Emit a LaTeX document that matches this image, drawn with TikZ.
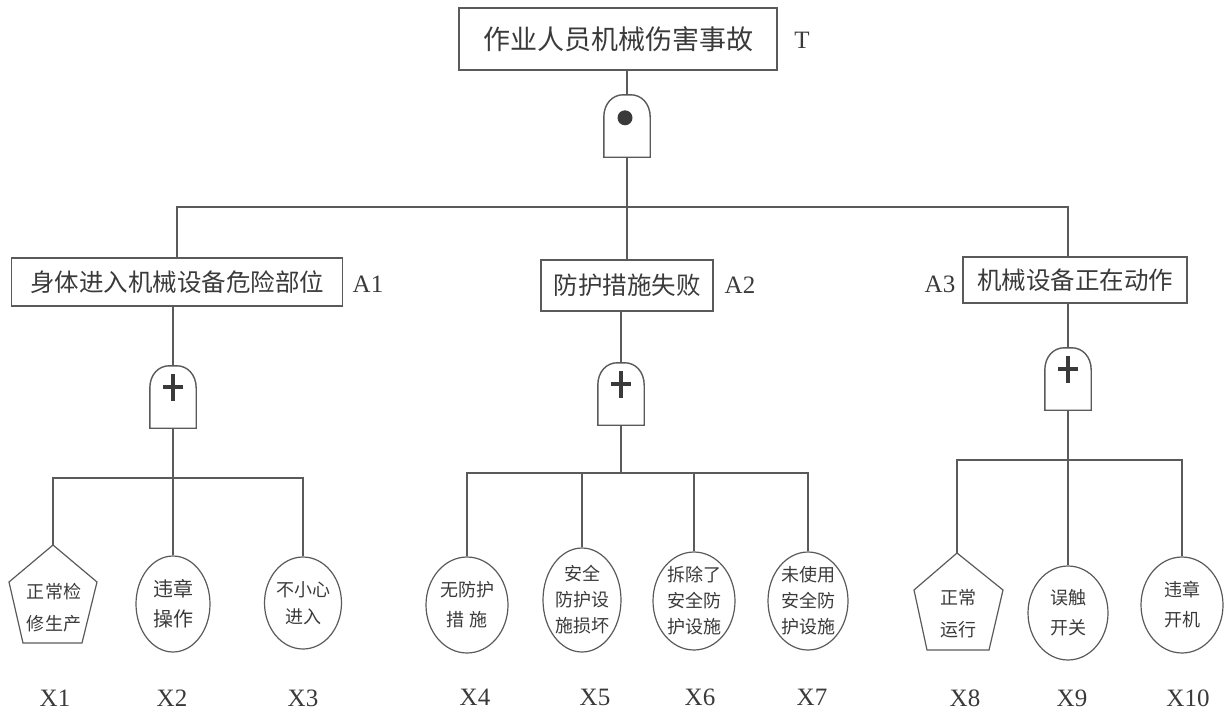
\documentclass[tikz,border=0pt]{standalone}
\usepackage{fontspec}
\usetikzlibrary{shapes.geometric,calc}
\setmainfont{Liberation Serif}
\newfontfamily\cjk{Noto Sans CJK SC}
\definecolor{ln}{HTML}{5A5A5A}
\definecolor{tx}{HTML}{3A3A3A}
\newcommand\ftgate[1]{%
  \draw[line,fill=white] (#1.south west) -- ++(0,-40)
    .. controls +(0,-14) and +(-10,0) .. ($(#1.north)+(-4,0)$)
    -- ($(#1.north)+(4,0)$)
    .. controls +(10,0) and +(0,-14) .. ($(#1.south east)+(0,-40)$)
    -- (#1.south east) -- cycle;}
\newcommand\orsign[1]{%
  \draw[tx,line width=4pt] ($(#1.north)+(0,8)$) -- ++(0,27);
  \draw[tx,line width=4pt] ($(#1.north)+(-10,21)$) -- ++(20,0);}
\begin{document}
\begin{tikzpicture}[x=1pt,y=-1pt,
  line/.style={draw=ln,line width=1.4pt},
  evbox/.style={draw=ln,line width=1.4pt,inner sep=0pt,text=tx,font=\cjk\fontsize{24.5}{24.5}\selectfont},
  lbl/.style={inner sep=0pt,text=tx,font=\fontsize{25}{25}\selectfont},
  leaf/.style={ellipse,draw=ln,line width=1.2pt,inner sep=0pt},
  leaftext/.style={inner sep=0pt,align=center,text=tx,font=\cjk\fontsize{18}{27}\selectfont},
  gbox/.style={inner sep=0pt,minimum width=46pt,minimum height=62pt},
]
\useasboundingbox (0,0) rectangle (1225,717);

% top event
\node[evbox,minimum width=318pt,minimum height=62pt,font=\cjk\fontsize{27}{27}\selectfont] (T) at (618,39) {作业人员机械伤害事故};
\node[lbl] (Tl) at (802,40) {T};
\node[gbox] (g0) at (627,126) {};

% intermediate events
\node[evbox,minimum width=331pt,minimum height=48pt] (A1) at (177,282) {身体进入机械设备危险部位};
\node[lbl] (A1l) at (368,284) {A1};
\node[evbox,minimum width=172pt,minimum height=51pt] (A2) at (627,285.5) {防护措施失败};
\node[lbl] (A2l) at (740,285) {A2};
\node[evbox,minimum width=224pt,minimum height=46pt] (A3) at (1075,280) {机械设备正在动作};
\node[lbl] (A3l) at (940,284) {A3};

\node[gbox] (g1) at (173,397) {};
\node[gbox] (g2) at (621,394) {};
\node[gbox] (g3) at (1068,379) {};

% basic events
\coordinate (x1) at (53,545);
\node[leaftext,font=\cjk\fontsize{18}{32}\selectfont] (x1t) at (54,608) {正常检\\修生产};
\node[leaf,minimum width=74pt,minimum height=96pt] (x2) at (173,604) {};
\node[leaftext,font=\cjk\fontsize{20}{30}\selectfont] (x2t) at (x2) {违章\\操作};
\node[leaf,minimum width=77pt,minimum height=92pt] (x3) at (303,603) {};
\node[leaftext] (x3t) at (x3) {不小心\\进入};

\node[leaf,minimum width=82pt,minimum height=96pt] (x4) at (467,605) {};
\node[leaftext,font=\cjk\fontsize{18}{30}\selectfont] (x4t) at (x4) {无防护\\措 施};
\node[leaf,minimum width=78pt,minimum height=104pt] (x5) at (582,600) {};
\node[leaftext,font=\cjk\fontsize{18}{26}\selectfont] (x5t) at (x5) {安全\\防护设\\施损坏};
\node[leaf,minimum width=82pt,minimum height=98pt] (x6) at (694,601) {};
\node[leaftext,font=\cjk\fontsize{18}{26}\selectfont] (x6t) at (x6) {拆除了\\安全防\\护设施};
\node[leaf,minimum width=80pt,minimum height=98pt] (x7) at (808,601) {};
\node[leaftext,font=\cjk\fontsize{18}{26}\selectfont] (x7t) at (x7) {未使用\\安全防\\护设施};

\coordinate (x8) at (957,553);
\node[leaftext,font=\cjk\fontsize{18}{32}\selectfont] (x8t) at (958,614) {正常\\运行};
\node[leaf,minimum width=80pt,minimum height=94pt] (x9) at (1068,613) {};
\node[leaftext,font=\cjk\fontsize{18}{30}\selectfont] (x9t) at (x9) {误触\\开关};
\node[leaf,minimum width=82pt,minimum height=96pt] (x10) at (1182,605) {};
\node[leaftext,font=\cjk\fontsize{18}{30}\selectfont] (x10t) at (x10) {违章\\开机};

% pentagons
\draw[line,line width=1.2pt] (x1) -- (97,582) -- (82,643) -- (23,643) -- (9,582) -- cycle;
\draw[line,line width=1.2pt] (x8) -- (1003,590) -- (989,650) -- (927,650) -- (914,590) -- cycle;

% labels of basic events
\node[lbl] (X1) at (55,698) {X1};
\node[lbl] (X2) at (172,698) {X2};
\node[lbl] (X3) at (303,698) {X3};
\node[lbl] (X4) at (475,697) {X4};
\node[lbl] (X5) at (595,697) {X5};
\node[lbl] (X6) at (700,697) {X6};
\node[lbl] (X7) at (812,697) {X7};
\node[lbl] (X8) at (965,698) {X8};
\node[lbl] (X9) at (1072,698) {X9};
\node[lbl] (X10) at (1188,698) {X10};

% connectors
\coordinate (b0) at (627,207);
\coordinate (b1) at (173,478);
\coordinate (b2) at (621,473);
\coordinate (b3) at (1068,460);
\draw[line] (g0.north |- T.south) -- (g0.north);
\draw[line] (g0.south) -- (b0);
\draw[line] (A1.north) |- (b0) -| (g3 |- A3.north);
\draw[line] (b0) -- (A2.north);
\draw[line] (g1.north |- A1.south) -- (g1.north);
\draw[line] (g2.north |- A2.south) -- (g2.north);
\draw[line] (g3.north |- A3.south) -- (g3.north);

\draw[line] (g1.south) -- (b1);
\draw[line] (x1) |- (b1) -| (x3.north);
\draw[line] (b1) -- (x2.north);

\draw[line] (g2.south) -- (b2);
\draw[line] (x4.north) |- (b2) -| (x7.north);
\draw[line] (x5.north) -- (x5.north |- b2);
\draw[line] (x6.north) -- (x6.north |- b2);

\draw[line] (g3.south) -- (b3);
\draw[line] (x8) |- (b3) -| (x10.north);
\draw[line] (b3) -- (x9.north);

% gates
\ftgate{g0}
\fill[tx] ($(g0.north)+(-2,23)$) circle (7.5pt);
\ftgate{g1}\orsign{g1}
\ftgate{g2}\orsign{g2}
\ftgate{g3}\orsign{g3}
\end{tikzpicture}
\end{document}
